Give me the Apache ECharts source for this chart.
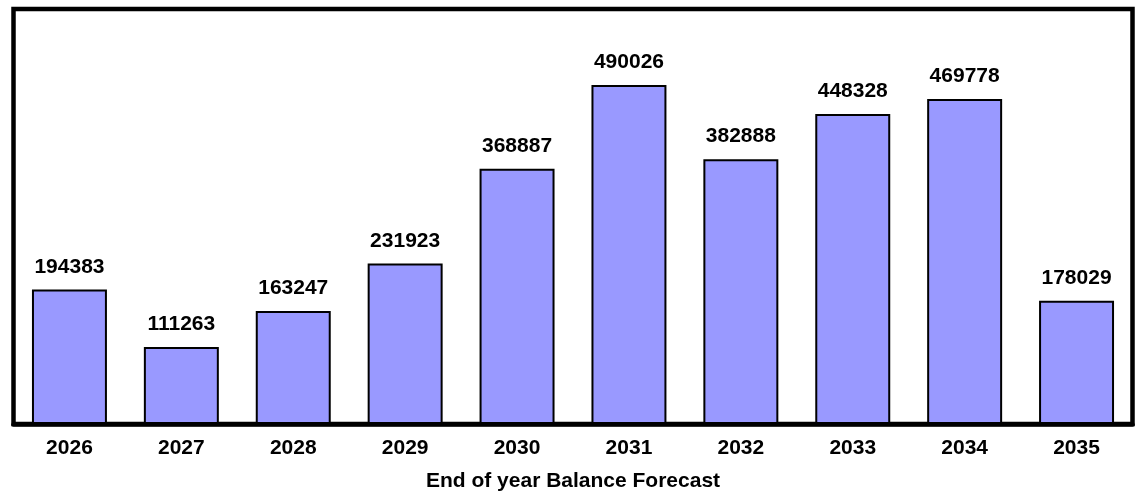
<!DOCTYPE html>
<html>
<head>
<meta charset="utf-8">
<script src="https://cdn.jsdelivr.net/npm/echarts@6/dist/echarts.min.js"></script>
<style>html,body{margin:0;padding:0;background:#fff;}#c{width:1143px;height:492px;}</style>
</head>
<body>
<div id="c"></div>
<script>
const categories = ['2026','2027','2028','2029','2030','2031','2032','2033','2034','2035'];
const balances = [194383,111263,163247,231923,368887,490026,382888,448328,469778,178029];
const axisTitle = 'End of year Balance Forecast';

const chart = echarts.init(document.getElementById('c'), null, {renderer:'canvas'});
const font = '"Liberation Sans", Arial, Helvetica, sans-serif';
chart.setOption({
  animation: false,
  backgroundColor: '#fff',
  grid: {left: 13.5, right: 10.5, top: 9, bottom: 68, show: true, borderColor: '#000', borderWidth: 4.5, backgroundColor: 'transparent', containLabel: false, outerBoundsMode: 'none'},
  xAxis: {
    type: 'category', data: categories,
    axisLine: {show: true, lineStyle: {color: '#000', width: 4.5}},
    axisTick: {show: false},
    axisLabel: {color: '#000', fontWeight: 'bold', fontSize: 21, fontFamily: font, margin: 14},
    name: axisTitle, nameLocation: 'middle', nameGap: 47,
    nameTextStyle: {color: '#000', fontWeight: 'bold', fontSize: 21, fontFamily: font}
  },
  yAxis: {
    type: 'value', min: 0, max: 600000,
    axisLine: {show: false}, axisTick: {show: false}, axisLabel: {show: false}, splitLine: {show: false}
  },
  series: [{
    type: 'bar', data: balances, barWidth: '67%',
    itemStyle: {color: '#9999FF', borderColor: '#000', borderWidth: 2},
    label: {show: true, position: 'top', distance: 12, color: '#000', fontWeight: 'bold', fontSize: 21, fontFamily: font}
  }]
});
</script>
</body>
</html>
